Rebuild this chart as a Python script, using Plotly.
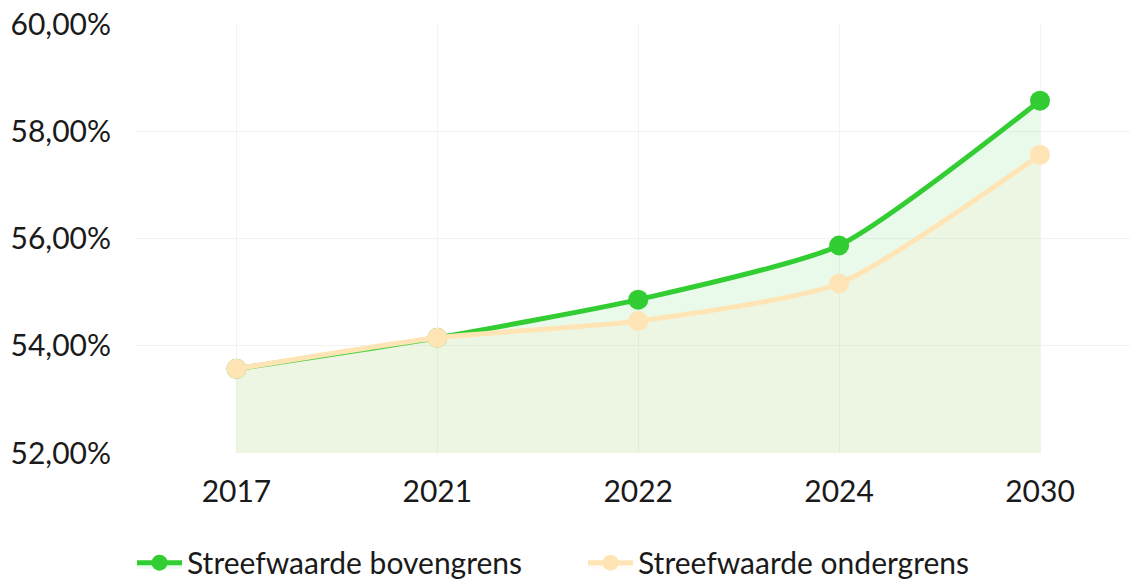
import plotly.graph_objects as go

years = ["2017", "2021", "2022", "2024", "2030"]
bovengrens = [53.57, 54.15, 54.86, 55.87, 58.57]
ondergrens = [53.57, 54.15, 54.46, 55.16, 57.56]
y_ticks = [52, 54, 56, 58, 60]
y_labels = ["52,00%", "54,00%", "56,00%", "58,00%", "60,00%"]

green = "#32CD32"
moccasin = "#FFE4B5"

fig = go.Figure()
fig.add_trace(go.Scatter(
    x=years, y=bovengrens, name="Streefwaarde bovengrens",
    mode="lines+markers", line=dict(color=green, width=5, shape="spline", smoothing=0.6),
    marker=dict(size=20, color=green),
    fill="tozeroy", fillcolor="rgba(50,205,50,0.1)",
))
fig.add_trace(go.Scatter(
    x=years, y=ondergrens, name="Streefwaarde ondergrens",
    mode="lines+markers", line=dict(color=moccasin, width=5, shape="spline", smoothing=0.6),
    marker=dict(size=20, color=moccasin),
    fill="tozeroy", fillcolor="rgba(255,228,181,0.15)",
))

fig.update_layout(
    width=1130, height=586,
    margin=dict(l=135.5, r=0, t=24, b=133, autoexpand=False),
    paper_bgcolor="white", plot_bgcolor="white",
    font=dict(family="Lato", size=30, color="#1a1a1a"),
    showlegend=True,
    legend=dict(orientation="h", x=-0.004, xanchor="left", y=-0.195, yanchor="top",
                entrywidth=391, entrywidthmode="pixels", itemwidth=45,
                font=dict(size=30), traceorder="normal"),
    xaxis=dict(type="category", range=[-0.5, 4.448], showgrid=True, gridcolor="#f2f2f2",
               showline=False, zeroline=False, ticks="", ticklabelstandoff=18,
               automargin=False),
    yaxis=dict(range=[52, 60], tickvals=y_ticks, ticktext=y_labels,
               showgrid=True, gridcolor="#f2f2f2", showline=False, zeroline=False,
               ticks="", ticklabelstandoff=24, automargin=False,
               ticklabeloverflow="allow"),
)

fig.write_html("out.html", config={"displayModeBar": False},
               post_script="document.body.style.margin='0';document.body.style.overflow='hidden';")
